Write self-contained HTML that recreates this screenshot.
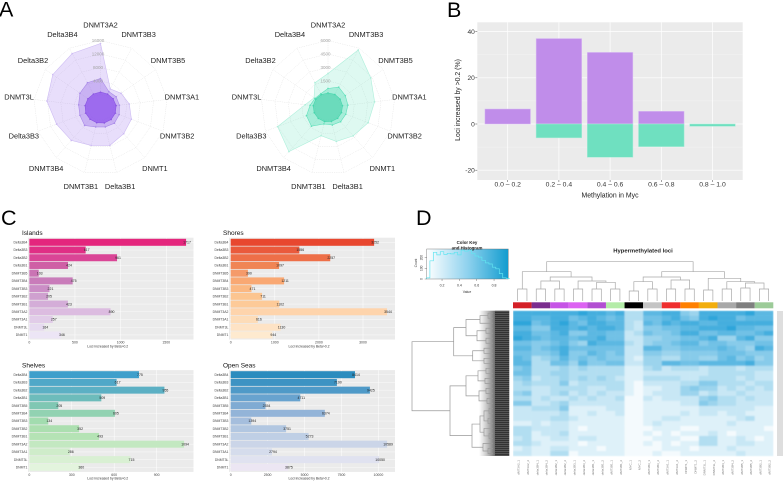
<!DOCTYPE html>
<html>
<head>
<meta charset="utf-8">
<title>Methylation figure</title>
<style>
html,body{margin:0;padding:0;background:#fff;}
svg{display:block;font-family:"Liberation Sans",sans-serif;filter:blur(0.3px);}
</style>
</head>
<body>
<svg id="fig" xmlns="http://www.w3.org/2000/svg" width="783" height="481" viewBox="0 0 783 481">
  <defs>
    <linearGradient id="keyGrad" x1="0" x2="1" y1="0" y2="0">
      <stop offset="0" stop-color="#ffffff"/>
      <stop offset="0.5" stop-color="#8fd2ee"/>
      <stop offset="1" stop-color="#129ccf"/>
    </linearGradient>
    <linearGradient id="fuzzGrad" x1="0" x2="1" y1="0" y2="0">
      <stop offset="0" stop-color="#999" stop-opacity="0"/>
      <stop offset="1" stop-color="#666" stop-opacity="0.95"/>
    </linearGradient>
    <pattern id="stripe" width="4" height="2" patternUnits="userSpaceOnUse">
      <rect width="4" height="2" fill="#333"/>
      <rect y="1.4" width="4" height="0.5" fill="#777"/>
    </pattern>
    <filter id="heatBlur" x="0" y="0" width="100%" height="100%">
      <feGaussianBlur stdDeviation="0.9 0.7" edgeMode="duplicate"/>
    </filter>
  </defs>
</svg>
<script>
/* ---------- Panel A data ---------- */
const radarLabels = ["DNMT3A2","DNMT3B3","DNMT3B5","DNMT3A1","DNMT3B2","DNMT1","Delta3B1","DNMT3B1","DNMT3B4","Delta3B3","DNMT3L","Delta3B2","Delta3B4"];
const purpleTicks = [4000,8000,12000,16000];
const purpleOuter = [15100,2370,3550,4740,5930,6520,7700,7700,9190,10070,12150,13330,14220];
const purpleMid = [4740,1480,1780,1780,2070,2370,2070,2070,3260,2670,2670,3560,4440];
const purpleInner = [700,650,700,800,850,900,850,800,800,850,750,700,650];
const greenTicks = [1500,3000,4500,6000];
const greenOuter = [2330,5770,4330,3770,3330,2770,2440,1780,5100,4550,1110,440,1670];
const greenMid = [670,1110,890,780,670,670,560,440,1330,1110,560,330,280];
const greenInner = [170,200,190,180,160,170,150,170,180,190,210,200,180];

/* ---------- Panel B data ---------- */
const bCategories = ["0.0 – 0.2","0.2 – 0.4","0.4 – 0.6","0.6 – 0.8","0.8 – 1.0"];
const bUp = [6.5,37,31,5.5,0];
const bDown = [0,-6,-14.4,-9.8,-1];
const bTicks = [-20,0,20,40];

/* ---------- Panel C data ---------- */
const cCategories = ["Delta3B4","Delta3B3","Delta3B2","Delta3B1","DNMT3B5","DNMT3B4","DNMT3B3","DNMT3B2","DNMT3B1","DNMT3A2","DNMT3A1","DNMT3L","DNMT1"];
const islandsValues = [1717,617,961,424,103,475,221,205,423,890,257,164,346];
const islandsTicks = [0,500,1000,1500];
const shoresValues = [3252,1556,2257,1097,390,1211,471,711,1102,3544,616,1130,944];
const shoresTicks = [0,1000,2000,3000];
const shelvesValues = [775,617,955,509,205,605,134,352,493,1094,286,715,360];
const shelvesTicks = [0,300,600,900];
const seasValues = [8414,7190,9425,4711,2354,6374,1394,3751,5273,10589,2794,10050,3875];
const seasTicks = [0,2500,5000,7500,10000];

/* ---------- Panel D data ---------- */
const heatColumns = ["dMT3A2_1","dMT3A2_2","delta3B4_1","delta3B4_2","delta3B2_1","delta3B2_2","delta3B3_1","delta3B3_2","delta3B1_1","delta3B1_2","dMT3B1_1","dMT3B1_2","MYC_1","MYC_2","dMT3B3_1","dMT3B3_2","dMT3A1_1","dMT3A1_2","DNMT1_1","DNMT1_2","DNMT3L_1","DNMT3L_2","dMT3B4_1","dMT3B4_2","dMT3B5_1","dMT3B5_2","dMT3B2_1","dMT3B2_2"];
const heatValues = [
[8,8,8,8,8,8,8,9,8,8,7,8,3,3,7,7,8,8,5,4,8,8,8,8,8,9,7,7],
[8,8,7,7,8,8,6,7,8,7,6,7,3,3,6,6,7,8,6,5,8,9,8,8,6,7,7,7],
[9,9,6,7,8,9,7,6,8,8,7,7,3,2,7,6,8,7,8,8,7,7,8,8,8,8,8,8],
[7,7,5,5,8,8,7,8,7,8,8,7,3,2,5,5,6,6,7,7,8,8,8,9,7,7,6,6],
[8,8,6,6,7,8,5,5,7,7,6,6,2,3,6,5,5,6,8,8,6,6,7,7,6,6,7,8],
[9,8,7,6,7,7,6,7,7,8,6,6,2,2,4,4,5,5,6,6,7,8,4,4,7,8,5,5],
[6,6,5,5,6,7,5,4,8,7,7,7,3,2,4,5,5,6,7,7,5,6,6,5,5,5,6,6],
[7,7,5,6,7,8,6,6,6,6,6,6,2,2,7,7,5,5,6,6,6,6,7,6,5,4,8,7],
[6,6,5,5,6,8,5,5,7,6,5,6,2,2,5,5,4,4,5,5,5,5,6,6,6,5,5,5],
[7,6,3,4,5,7,5,6,5,6,5,5,2,1,4,4,3,3,5,5,4,4,6,7,5,6,4,5],
[7,7,3,3,6,6,4,7,5,5,6,6,2,2,4,4,7,7,6,6,7,7,7,7,7,8,5,5],
[5,6,3,3,3,4,3,4,3,3,3,3,1,1,3,4,2,3,3,3,2,3,3,3,2,3,3,3],
[6,6,3,3,4,4,3,3,3,3,3,3,1,1,2,2,2,2,2,2,2,3,3,3,3,3,2,2],
[4,5,2,3,3,4,3,4,3,4,3,2,1,1,3,3,3,3,2,2,3,3,3,3,2,3,2,2],
[3,4,3,3,3,5,2,3,3,3,3,3,1,0,2,2,2,2,3,3,5,5,3,3,3,2,3,3],
[3,3,2,2,3,3,3,3,2,2,3,3,1,0,1,1,2,2,4,5,4,4,2,3,2,3,2,3],
[4,5,2,2,3,4,2,3,2,3,2,2,1,0,1,2,2,2,4,4,2,3,2,2,3,2,2,2],
[3,3,2,3,2,2,3,2,3,2,2,3,0,0,2,1,2,2,2,2,4,5,3,3,2,3,2,2],
[5,5,2,2,3,4,2,2,2,2,2,2,0,0,1,1,1,1,2,2,5,4,3,3,2,2,2,2],
[2,2,3,3,3,5,1,1,1,1,2,2,0,0,1,1,1,1,1,1,2,2,2,2,2,2,1,1],
[2,2,2,2,2,3,1,1,2,1,1,2,0,0,1,1,1,1,2,1,2,2,1,2,2,1,1,1],
[2,2,2,2,3,3,2,1,1,1,1,1,0,0,1,1,2,2,1,1,1,1,1,1,2,3,1,1],
[1,1,2,1,2,2,1,1,1,1,1,1,0,0,1,2,1,1,1,1,1,1,1,2,1,1,1,1],
[3,3,2,2,2,2,1,0,1,1,1,1,0,0,0,1,1,1,0,0,1,1,1,1,1,1,1,0],
[3,3,1,2,2,3,1,1,1,1,1,1,0,0,1,0,1,0,1,1,1,2,1,0,1,1,1,1],
[2,3,1,1,2,2,1,2,2,1,1,1,0,0,0,1,1,1,0,0,3,3,1,1,2,1,0,1],
[3,3,2,1,1,1,1,0,1,1,1,1,0,0,1,0,1,0,1,1,3,3,1,1,2,2,1,1],
[1,2,1,1,2,2,1,1,1,0,1,1,0,0,0,0,1,1,1,0,1,1,1,2,1,1,1,1],
[2,2,1,1,3,3,0,1,1,1,1,1,0,0,0,1,0,0,1,1,1,1,1,1,2,1,1,1]
];
const groupColors = ["#d42027","#7b2d8e","#c654e6","#dc62f2","#b24fd2","#b4eca8","#000000","#c4c4c4","#ef2e2e","#ff8000","#f2ae0c","#a8a8a8","#7f7f7f","#9ccb98"];
const histCounts = [10,170,250,225,255,230,240,235,250,225,270,260,270,240,215,205,175,150,140,110,95,50,10,5];
const keyTicks = [0.2,0.4,0.6,0.8];
const countTicks = [0,100,200];
/* merge heights: [height, left, right]; leaf = column index */
const colTree = [39.3,
  [29.3,[12,0,1],[24,[20,[12,2,3],[12,4,5]],[20,[12,6,7],[18.7,[12,8,9],[12,10,11]]]]],
  [29.3,[24,[19.3,[10,12,13],[12,14,15]],[21,[12,16,17],[12,18,19]]],
        [22.7,[11,20,21],[19.3,[12,22,23],[18,[13,24,25],[12,26,27]]]]]];
/* merge depth: [depth, top, bottom]; leaf = row index */
const rowTree = [412,
  [453.7,
    [466,[480,[488,0,1],2],[477,[486,3,4],[486,5,6]]],
    [472.7,[484,7,8],[484,9,10]]],
  [450,
    [466,[478,[486,11,12],[485,13,14]],[479,[486,15,16],[487,17,18]]],
    [472,[480,[484,[489,19,20],[488,21,22]],[484,23,[489,24,25]]],[483,26,[488,27,28]]]]];

/* ---------- helpers ---------- */
const NS = "http://www.w3.org/2000/svg";
const svg = document.getElementById("fig");
function mk(tag, attrs, name, parent){
  const el = document.createElementNS(NS, tag);
  for (const k in attrs) el.setAttribute(k, attrs[k]);
  
  
  (parent || svg).appendChild(el);
  return el;
}
function txt(s, x, y, size, fill, anchor, name, parent, extra){
  const a = {x:x, y:y + size*0.35, "font-size":size, fill:fill, "text-anchor":anchor||"middle"};
  if (extra) for (const k in extra) a[k] = extra[k];
  const t = mk("text", a, name, parent);
  t.textContent = s;
  return t;
}
function slug(s){ return s.toLowerCase().replace(/[^a-z0-9]+/g,'-'); }

/* panel letters */
[["A",-1,16.5],["B",447,17],["C",1,225],["D",416,225]].forEach(function(p){
  const t = mk("text",{x:p[1],y:p[2],"font-size":21.5,fill:"#000"},"panel-letter-"+p[0].toLowerCase());
  t.textContent = p[0];
});

/* ---------- radar ---------- */
function drawRadar(cfg){
  const g = mk("g",{},cfg.name);
  const n = radarLabels.length, maxV = cfg.ticks[cfg.ticks.length-1];
  const rad = function(v){ return 13 + v*54/maxV; };
  const pt = function(i,r){ const a = i*2*Math.PI/n; return [cfg.cx + r*Math.sin(a), cfg.cy - r*Math.cos(a)]; };
  [0].concat(cfg.ticks).forEach(function(tv){
    const pts = radarLabels.map(function(_,i){ return pt(i,rad(tv)).map(function(c){return c.toFixed(1);}).join(","); }).join(" ");
    mk("polygon",{points:pts,fill:"none",stroke:"#dedede","stroke-width":0.5,"stroke-dasharray":"0.8 1"},"radar-grid-ring",g);
  });
  radarLabels.forEach(function(l,i){
    const a = pt(i,13), b = pt(i,rad(maxV));
    mk("line",{x1:a[0],y1:a[1],x2:b[0],y2:b[1],stroke:"#dedede","stroke-width":0.5,"stroke-dasharray":"0.8 1"},"radar-spoke",g);
  });
  cfg.series.forEach(function(s,si){
    const pts = s.map(function(v,i){ return pt(i,rad(v)).map(function(c){return c.toFixed(1);}).join(","); }).join(" ");
    mk("polygon",{points:pts,fill:cfg.fills[si],stroke:cfg.strokes[si],"stroke-width":0.6},"radar-series-"+si,g);
    s.forEach(function(v,i){
      const p = pt(i,rad(v));
      mk("circle",{cx:p[0],cy:p[1],r:0.8,fill:cfg.strokes[si]},"radar-point",g);
    });
  });
  cfg.ticks.forEach(function(tv){
    txt(String(tv),cfg.cx-2.5,cfg.cy-rad(tv),4.5,"#a5a5a5","middle","radar-tick-label",g);
  });
  radarLabels.forEach(function(l,i){
    const p = pt(i,82);
    txt(l,p[0],p[1]-0.7,7.4,"#222","middle","radar-label-"+slug(l),g);
  });
}
drawRadar({name:"radar-purple",cx:100.5,cy:107.5,ticks:purpleTicks,series:[purpleOuter,purpleMid,purpleInner],
  fills:["rgba(150,105,235,0.22)","rgba(140,90,225,0.34)","rgba(140,80,235,0.72)"],strokes:["#cdbbf3","#a98ae8","#8a55e2"]});
drawRadar({name:"radar-green",cx:328,cy:107.5,ticks:greenTicks,series:[greenOuter,greenMid,greenInner],
  fills:["rgba(70,220,175,0.18)","rgba(60,215,170,0.34)","rgba(60,205,165,0.55)"],strokes:["#aeefdb","#5fe0ba","#45d6ac"]});

/* ---------- Panel B ---------- */
(function(){
  const g = mk("g",{},"methylation-bar-chart");
  const L=477.3,R=742.7,T=22.3,B=180;
  const y = function(v){ return 124 - v*2.31; };
  const x = function(i){ return 507.7 + i*51.2; };
  mk("rect",{x:L,y:T,width:R-L,height:B-T,fill:"#ebebeb"},"plot-background",g);
  [-10,10,30].forEach(function(v){
    mk("line",{x1:L,x2:R,y1:y(v),y2:y(v),stroke:"#f6f6f6","stroke-width":0.4},"minor-gridline",g);
  });
  bTicks.forEach(function(v){
    mk("line",{x1:L,x2:R,y1:y(v),y2:y(v),stroke:"#fff","stroke-width":0.7},"major-gridline",g);
    mk("line",{x1:L-2,x2:L,y1:y(v),y2:y(v),stroke:"#444","stroke-width":0.5},"y-tick",g);
    txt(String(v),L-2.5,y(v),6.6,"#333","end","y-tick-label",g);
  });
  bCategories.forEach(function(c,i){
    mk("line",{x1:x(i),x2:x(i),y1:T,y2:B,stroke:"#fff","stroke-width":0.7},"vertical-gridline",g);
    mk("line",{x1:x(i),x2:x(i),y1:B,y2:B+2,stroke:"#444","stroke-width":0.5},"x-tick",g);
    txt(c,x(i),184,6.8,"#333","middle","x-tick-label",g);
  });
  bUp.forEach(function(v,i){
    if (v>0) mk("rect",{x:x(i)-22.8,y:y(v),width:45.6,height:y(0)-y(v),fill:"#c08dea",stroke:"#dcc3f3","stroke-width":0.5},"bar-up-"+i,g);
  });
  bDown.forEach(function(v,i){
    if (v<0) mk("rect",{x:x(i)-22.8,y:y(0),width:45.6,height:y(v)-y(0),fill:"#6fe0c0",stroke:"#a9ecd8","stroke-width":0.5},"bar-down-"+i,g);
  });
  txt("Methylation in Myc",610,195.2,6.9,"#222","middle","x-axis-title",g);
  txt("Loci increased by >0.2 (%)",0,0,6.9,"#222","middle","y-axis-title",g,{transform:"translate(457.7,100) rotate(-90)"});
})();

/* ---------- Panel C ---------- */
function drawHBar(cfg){
  const g = mk("g",{},cfg.name);
  const x = function(v){ return cfg.x0 + v*cfg.k; };
  const rowY = function(i){ return cfg.y0 + i*7.72; };
  mk("rect",{x:cfg.L,y:cfg.y0-4.6,width:cfg.R-cfg.L,height:rowY(12)-cfg.y0+9.2,fill:"#ebebeb"},"plot-background",g);
  cfg.ticks.forEach(function(t){
    mk("line",{x1:x(t),x2:x(t),y1:cfg.y0-4.6,y2:rowY(12)+4.6,stroke:"#fff","stroke-width":0.5},"vertical-gridline",g);
    txt(String(t),x(t),rowY(12)+7.2,3.5,"#444","middle","x-tick-label",g);
  });
  cCategories.forEach(function(c,i){
    mk("line",{x1:cfg.L,x2:cfg.R,y1:rowY(i),y2:rowY(i),stroke:"#fff","stroke-width":0.4},"horizontal-gridline",g);
    txt(c,cfg.L-0.6,rowY(i),3.4,"#444","end","category-label",g);
    mk("rect",{x:cfg.x0,y:rowY(i)-3.5,width:cfg.values[i]*cfg.k,height:7,fill:cfg.colors[i]},"bar-"+slug(c),g);
  });
  cCategories.forEach(function(c,i){
    txt(String(cfg.values[i]),x(cfg.values[i])+1,rowY(i),3.5,"#222","middle","value-label",g);
  });
  txt(cfg.title,cfg.titleX,cfg.y0-9.4,6.5,"#111","start","chart-title",g);
  txt("Loci increased by Beta>0.2",cfg.midX,rowY(12)+11.2,3.4,"#333","middle","x-axis-title",g);
}
drawHBar({name:"islands-bar-chart",title:"Islands",titleX:22,values:islandsValues,ticks:islandsTicks,x0:29.3,k:0.0913,L:28,R:193.5,y0:242.3,midX:107.7,
  colors:["#e4267d","#e02f85","#da4596","#cf5fa5","#ca74b4","#c97cba","#cb8ec6","#cfa0cf","#d4add8","#dcbce0","#e1cce8","#e6daf0","#ece5f5"]});
drawHBar({name:"shores-bar-chart",title:"Shores",titleX:223,values:shoresValues,ticks:shoresTicks,x0:230.7,k:0.0441,L:229,R:395,y0:242.3,midX:309,
  colors:["#e8472f","#ea5a3c","#ee6f48","#f08555","#f59a6a","#f9a873","#fbb882","#fcc590","#fdca98","#fed4ac","#fddcb8","#fee3c5","#feeacf"]});
drawHBar({name:"shelves-bar-chart",title:"Shelves",titleX:22,values:shelvesValues,ticks:shelvesTicks,x0:29.3,k:0.1415,L:28,R:193.5,y0:374.7,midX:107.7,
  colors:["#3f9fcb","#50a8c8","#5cb0c4","#6dbcbb","#80c7b3","#92d2b2","#a2dcaf","#acdfb0","#b5e3b5","#c3e8c1","#cfecca","#d9f0d3","#e3f4dd"]});
drawHBar({name:"open-seas-bar-chart",title:"Open Seas",titleX:223,values:seasValues,ticks:seasTicks,x0:230.7,k:0.01477,L:229,R:395,y0:374.7,midX:309,
  colors:["#2b8cbe","#3d93c3","#4f9ac8","#68a3cf","#7fabd3","#93b4d8","#a5bedd","#b2c7e1","#bfcfe5","#cbd5e8","#d5dcec","#e0e2f0","#ece6f3"]});

/* ---------- Panel D ---------- */
(function(){
  const g = mk("g",{},"hypermethylation-heatmap");
  const L=513,R=773.3,T=310.7,B=456;
  const cw=(R-L)/heatColumns.length, rh=(B-T)/heatValues.length;
  const colX=function(i){ return L+(i+0.5)*cw; };
  const rowY=function(i){ return T+(i+0.5)*rh; };
  const shade=function(v){
    const t=0.05+0.9*v/9;
    const c0=[255,255,255], c1=[36,160,216];
    return "rgb("+c0.map(function(a,i){return Math.round(a+(c1[i]-a)*t);}).join(",")+")";
  };
  const cells = mk("g",{filter:"url(#heatBlur)"},"heatmap-cells",g);
  heatValues.forEach(function(row,r){
    row.forEach(function(v,c){
      mk("rect",{x:(L+c*cw).toFixed(2),y:(T+r*rh).toFixed(2),width:(cw+0.2).toFixed(2),height:(rh+0.2).toFixed(2),fill:shade(v)},"heatmap-cell",cells);
    });
  });
  groupColors.forEach(function(col,i){
    mk("rect",{x:L+2*i*cw,y:302.3,width:2*cw,height:6,fill:col},"group-color-bar-"+i,g);
  });
  heatColumns.forEach(function(l,i){
    txt(l,0,0,3,"#777","end","column-label-"+slug(l),g,{transform:"translate("+(colX(i)+1)+",460) rotate(-90)"});
  });
  txt("Hypermethylated loci",643,250.2,5.9,"#222","middle","heatmap-title",g,{"font-weight":"bold"});
  mk("rect",{x:777,y:311,width:6,height:145,fill:"#dedede"},"row-annotation-strip",g);

  const stroke="#a9a9a9";
  function drawCol(node){
    if (typeof node==="number") return {x:colX(node),y:301};
    const y=301-node[0], a=drawCol(node[1]), b=drawCol(node[2]);
    mk("path",{d:"M"+a.x+" "+a.y+"V"+y+"H"+b.x+"V"+b.y,fill:"none",stroke:stroke,"stroke-width":0.7},"column-dendrogram-branch",g);
    return {x:(a.x+b.x)/2,y:y};
  }
  drawCol(colTree);
  function drawRow(node){
    if (typeof node==="number") return {x:493,y:rowY(node)};
    const x=node[0], a=drawRow(node[1]), b=drawRow(node[2]);
    mk("path",{d:"M"+a.x+" "+a.y+"H"+x+"V"+b.y+"H"+b.x,fill:"none",stroke:"#999","stroke-width":0.7},"row-dendrogram-branch",g);
    return {x:x,y:(a.y+b.y)/2};
  }
  mk("rect",{x:479,y:T,width:16,height:B-T,fill:"url(#fuzzGrad)"},"row-dendrogram-leaves",g);
  drawRow(rowTree);
  mk("rect",{x:495,y:T,width:14.3,height:B-T,fill:"url(#stripe)"},"row-label-strip",g);

  /* colour key */
  const kx=function(v){ return 424.7+86.7*v; };
  const ky=function(c){ return 279-c*0.107; };
  mk("rect",{x:426.7,y:249,width:81.6,height:30,fill:"url(#keyGrad)",stroke:"#666","stroke-width":0.4},"color-key-gradient",g);
  let d="M"+kx(0.02)+" "+ky(0);
  histCounts.forEach(function(c,i){
    d+="V"+ky(c).toFixed(1)+"H"+kx(0.02+(i+1)*0.04).toFixed(1);
  });
  mk("path",{d:d,fill:"none",stroke:"#62e4f0","stroke-width":0.7},"color-key-histogram",g);
  keyTicks.forEach(function(v){
    mk("line",{x1:kx(v),x2:kx(v),y1:279,y2:281,stroke:"#555","stroke-width":0.4},"key-tick",g);
    txt(v.toFixed(1),kx(v),285.5,3.5,"#333","middle","key-tick-label",g);
  });
  countTicks.forEach(function(c){
    mk("line",{x1:424.7,x2:426.7,y1:ky(c),y2:ky(c),stroke:"#555","stroke-width":0.4},"count-tick",g);
    txt(String(c),0,0,3.2,"#333","middle","count-tick-label",g,{transform:"translate(421.5,"+ky(c)+") rotate(-90)"});
  });
  txt("Value",467,292,3.4,"#333","middle","key-x-title",g);
  txt("Count",0,0,3.2,"#333","middle","key-y-title",g,{transform:"translate(416,263) rotate(-90)"});
  txt("Color Key",467,242.3,4.4,"#222","middle","key-title-line-1",g,{"font-weight":"bold"});
  txt("and Histogram",467,248,4.4,"#222","middle","key-title-line-2",g,{"font-weight":"bold"});
})();
</script>
</body>
</html>
